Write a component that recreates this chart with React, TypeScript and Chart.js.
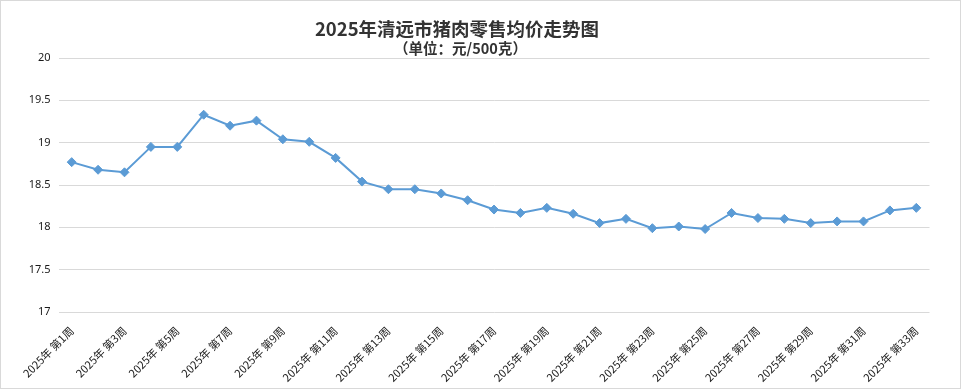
import React, { useEffect, useRef } from 'react';
import { Chart, registerables } from 'chart.js';
Chart.register(...registerables);

const titleText = '2025年清远市猪肉零售均价走势图';
const subtitleText = '（单位：元/500克）';

const categories: string[] = [
  '2025年 第1周', '2025年 第2周', '2025年 第3周', '2025年 第4周', '2025年 第5周',
  '2025年 第6周', '2025年 第7周', '2025年 第8周', '2025年 第9周', '2025年 第10周',
  '2025年 第11周', '2025年 第12周', '2025年 第13周', '2025年 第14周', '2025年 第15周',
  '2025年 第16周', '2025年 第17周', '2025年 第18周', '2025年 第19周', '2025年 第20周',
  '2025年 第21周', '2025年 第22周', '2025年 第23周', '2025年 第24周', '2025年 第25周',
  '2025年 第26周', '2025年 第27周', '2025年 第28周', '2025年 第29周', '2025年 第30周',
  '2025年 第31周', '2025年 第32周', '2025年 第33周',
];

const prices: number[] = [
  18.77, 18.68, 18.65, 18.95, 18.95, 19.33, 19.20, 19.26, 19.04, 19.01,
  18.82, 18.54, 18.45, 18.45, 18.40, 18.32, 18.21, 18.17, 18.23, 18.16,
  18.05, 18.10, 17.99, 18.01, 17.98, 18.17, 18.11, 18.10, 18.05, 18.07,
  18.07, 18.20, 18.23,
];

const yMin = 17;
const yMax = 20;
const yStep = 0.5;

export default function App() {
  const ref = useRef<HTMLCanvasElement | null>(null);
  useEffect(() => {
    document.body.style.margin = '0';
    const ctx = ref.current!;
    const chart = new Chart(ctx, {
      type: 'line',
      data: {
        labels: categories,
        datasets: [
          {
            data: prices,
            borderColor: '#5b9bd5',
            backgroundColor: '#5b9bd5',
            borderWidth: 2,
            pointStyle: 'rectRot',
            pointRadius: 4.5,
            pointBorderWidth: 1,
            pointBackgroundColor: '#5b9bd5',
            pointBorderColor: '#5b9bd5',
            tension: 0,
          },
        ],
      },
      options: {
        animation: false,
        responsive: false,
        layout: { padding: { left: 7, right: 30.5, top: 57, bottom: 0 } },
        plugins: {
          legend: { display: false },
          tooltip: { enabled: false },
          title: { display: false },
        },
        scales: {
          x: {
            offset: true,
            grid: { display: false },
            border: { display: false },
            afterFit: (s: any) => { s.height = 76; },
            ticks: {
              autoSkip: false,
              maxRotation: 45,
              minRotation: 45,
              padding: 4,
              color: '#1a1a1a',
              font: { family: "'Noto Sans CJK SC'", size: 11 },
              callback: function (this: any, _v: any, i: number) {
                return i % 2 === 0 ? categories[i] : '';
              },
            },
          },
          y: {
            min: yMin,
            max: yMax,
            border: { display: false },
            afterFit: (s: any) => { s.width = 50.5; },
            grid: { color: '#d9d9d9', lineWidth: 1, drawTicks: false },
            ticks: {
              stepSize: yStep,
              padding: 8,
              color: '#1a1a1a',
              font: { family: "'Noto Sans', 'DejaVu Sans'", size: 11 },
              callback: (v: any) => String(Number(v)),
            },
          },
        },
      },
    });
    return () => chart.destroy();
  }, []);
  return (
    <div
      style={{
        position: 'fixed',
        left: 0,
        top: 0,
        width: 961,
        height: 389,
        boxSizing: 'border-box',
        border: '1px solid #d9d9d9',
        background: '#fff',
      }}
    >
      <canvas ref={ref} width={959} height={387} style={{ display: 'block' }} />
      <div
        style={{
          position: 'absolute',
          left: 0,
          top: 16,
          width: 912,
          textAlign: 'center',
          fontFamily: "'Noto Sans CJK SC'",
          fontWeight: 'bold',
          fontSize: 18.5,
          lineHeight: '22px',
          color: '#333',
          whiteSpace: 'nowrap',
        }}
      >
        {titleText}
      </div>
      <div
        style={{
          position: 'absolute',
          left: 0,
          top: 38,
          width: 919,
          textAlign: 'center',
          fontFamily: "'Noto Sans CJK SC'",
          fontWeight: 'bold',
          fontSize: 14.5,
          lineHeight: '17px',
          color: '#333',
          whiteSpace: 'nowrap',
        }}
      >
        {subtitleText}
      </div>
    </div>
  );
}
